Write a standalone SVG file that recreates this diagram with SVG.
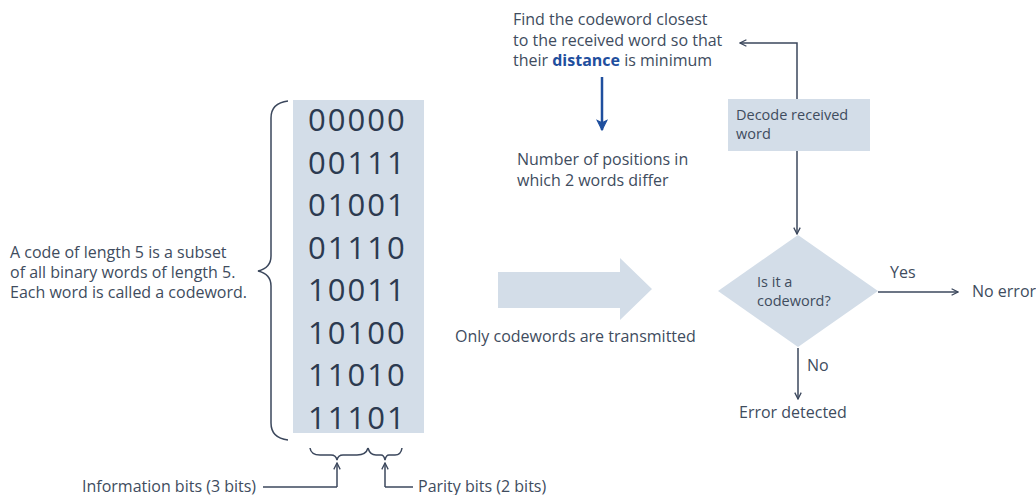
<svg xmlns="http://www.w3.org/2000/svg" width="1036" height="495" viewBox="0 0 1036 495">
  <style>
    .t { font-family: "Open Sans", "Noto Sans", sans-serif; font-size: 16px; fill: #404c5e; }
    .s { font-size: 14.5px; }
    .digits { font-family: "Open Sans", "Noto Sans", sans-serif; font-size: 31px; fill: #2c3a50; letter-spacing: 2px; }
    .fill { fill: #d3dde8; }
    .line { fill: none; stroke: #3b475c; stroke-width: 1.5; }
    .blue { fill: none; stroke: #1f4f9e; stroke-width: 2.5; }
    .b { font-weight: bold; fill: #1f4f9e; }
  </style>
  <defs>
    <marker id="open" viewBox="0 0 10 10" refX="9" refY="5" markerWidth="8" markerHeight="8" markerUnits="userSpaceOnUse" orient="auto">
      <polyline points="1,1 9,5 1,9" fill="none" stroke="#3b475c" stroke-width="1.6"/>
    </marker>
    <marker id="openBlue" viewBox="0 0 10 10" refX="9" refY="5" markerWidth="12" markerHeight="12" markerUnits="userSpaceOnUse" orient="auto">
      <path d="M1,1 L9,5 L1,9 L3,5 Z" fill="#1f4f9e" stroke="#1f4f9e" stroke-width="1"/>
    </marker>
  </defs>

  <rect width="1036" height="495" fill="#ffffff"/>

  <!-- code table -->
  <g id="codewords">
    <rect class="fill" x="293" y="100" width="131" height="333"/>
    <text class="digits" x="308" y="131">00000</text>
    <text class="digits" x="308" y="173.5">00111</text>
    <text class="digits" x="308" y="216">01001</text>
    <text class="digits" x="308" y="258.5">01110</text>
    <text class="digits" x="308" y="301">10011</text>
    <text class="digits" x="308" y="343.5">10100</text>
    <text class="digits" x="308" y="386">11010</text>
    <text class="digits" x="308" y="428.5">11101</text>
  </g>

  <!-- brace and definition -->
  <g id="definition">
    <path class="line" d="M288,101 Q271,103 271,118 L271,256 Q271,268 258,271 Q271,274 271,286 L271,423 Q271,438 288,440"/>
    <text class="t" x="10" y="258">A code of length 5 is a subset</text>
    <text class="t" x="10" y="278">of all binary words of length 5.</text>
    <text class="t" x="10" y="298">Each word is called a codeword.</text>
  </g>

  <!-- bit groups -->
  <g id="bit-groups">
    <path class="line" d="M310,448 Q311,455 320,455 L331,455 Q336,455 337,460 Q338,455 343,455 L357,455 Q366,455 368,448"/>
    <path class="line" d="M368,448 Q370,455 376,455 L381,455 Q384,455 385,460 Q386,455 389,455 L395,455 Q401,455 402,448"/>
    <text class="t" x="82" y="492">Information bits (3 bits)</text>
    <text class="t" x="418" y="492">Parity bits (2 bits)</text>
  </g>

  <!-- minimum distance note -->
  <g id="distance">
    <text class="t" x="513" y="25">Find the codeword closest</text>
    <text class="t" x="513" y="46">to the received word so that</text>
    <text class="t" x="513" y="66">their <tspan class="b">distance</tspan> is minimum</text>
    <text class="t" x="517" y="165">Number of positions in</text>
    <text class="t" x="517" y="186">which 2 words differ</text>
  </g>

  <!-- transmission arrow -->
  <g id="transmit">
    <polygon class="fill" points="498,272 620,272 620,258 652,289 620,320 620,308 498,308"/>
    <text class="t" x="455" y="342">Only codewords are transmitted</text>
  </g>

  <g id="decode">
    <rect class="fill" x="728" y="99" width="142" height="52"/>
    <text class="t s" x="736" y="120">Decode received</text>
    <text class="t s" x="736" y="139">word</text>
  </g>

  <g id="check">
    <polygon class="fill" points="798,235 878,291 798,347 718,291"/>
    <text class="t s" x="757" y="287">Is it a</text>
    <text class="t s" x="757" y="306">codeword?</text>
  </g>

  <g id="outcomes">
    <text class="t" x="890" y="278">Yes</text>
    <text class="t" x="972" y="297">No error</text>
    <text class="t" x="807" y="371">No</text>
    <text class="t" x="739" y="418">Error detected</text>
  </g>

  <!-- connectors -->
  <g id="connectors">
    <path class="line" d="M337,487 L337,463" marker-end="url(#open)"/>
    <path class="line" d="M263,487 L337,487"/>
    <path class="line" d="M385,487 L385,463" marker-end="url(#open)"/>
    <path class="line" d="M385,487 L413,487"/>
    <path class="blue" d="M602,77 L602,130" marker-end="url(#openBlue)"/>
    <path class="line" d="M797,99 L797,43 L740,43" marker-end="url(#open)"/>
    <path class="line" d="M797,151 L797,234" marker-end="url(#open)"/>
    <path class="line" d="M878,292 L958,292" marker-end="url(#open)"/>
    <path class="line" d="M798,348 L798,399" marker-end="url(#open)"/>
  </g>
</svg>
